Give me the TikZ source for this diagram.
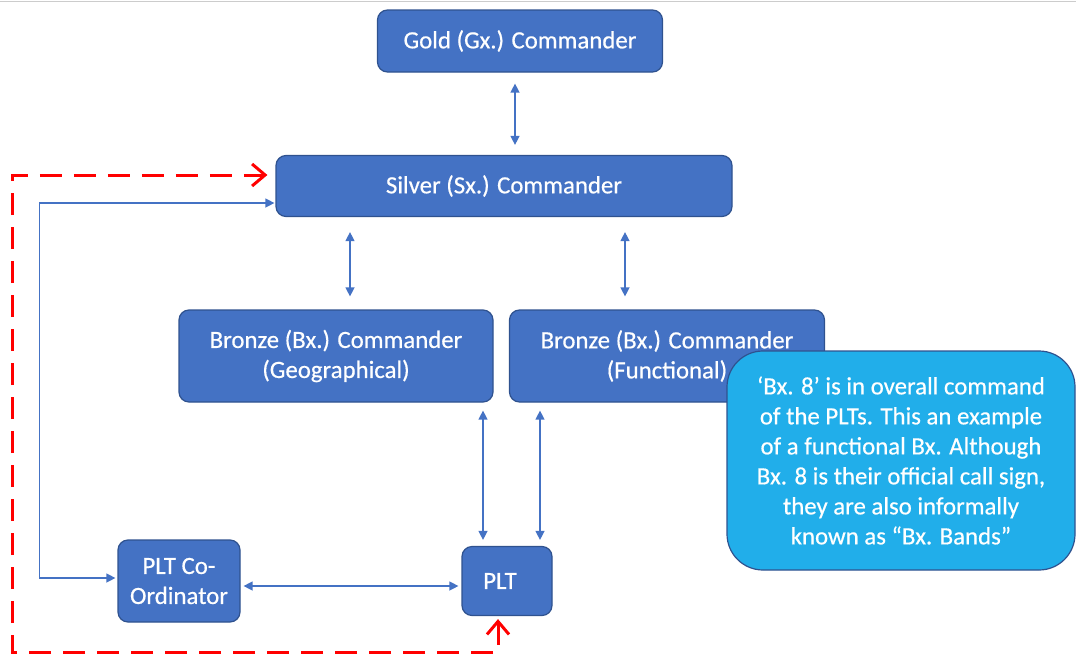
\documentclass[tikz,border=0pt]{standalone}
\usepackage{fontspec}
\setmainfont{Carlito}[FakeBold=0.5]
\usepackage{tikz}
\usetikzlibrary{arrows.meta}
\definecolor{boxblue}{HTML}{4472C4}
\definecolor{boxedge}{HTML}{2F528F}
\definecolor{noteblue}{HTML}{21AEEA}
\tikzset{
  cmdbox/.style={draw=boxedge, line width=1.2pt, fill=boxblue, rounded corners=10pt,
    text=white, align=center, inner sep=0pt, font=\fontsize{24.8}{30}\selectfont},
  notebox/.style={cmdbox, fill=noteblue, rounded corners=36pt},
  link/.style={boxblue, line width=1.3pt,
    {Triangle[length=9pt,width=9pt]}-{Triangle[length=9pt,width=9pt]}},
  feedback/.style={red, line width=3pt, dash pattern=on 22pt off 12pt,
    {Straight Barb[length=13pt,width=22pt]}-{Straight Barb[length=13pt,width=22pt]}}
}

\begin{document}
\begin{tikzpicture}[x=1pt,y=-1pt]
\useasboundingbox (0,0) rectangle (1076,656);
\draw [black!20, line width=1pt] (0,1.5) -- (1076,1.5);

\node [cmdbox, minimum width=285, minimum height=62] (gold) at (520,41) {Gold (Gx.) Commander};
\node [cmdbox, minimum width=456, minimum height=61] (silver) at (504,186) {Silver (Sx.) Commander};
\node [cmdbox, minimum width=314, minimum height=92] (bgeo) at (336,356) {Bronze (Bx.) Commander\\(Geographical)};
\node [cmdbox, minimum width=315, minimum height=92] (bfun) at (667,356) {Bronze (Bx.) Commander\\(Functional)};
\node [cmdbox, minimum width=122, minimum height=82] (coord) at (179,581) {PLT Co-\\Ordinator};
\node [cmdbox, minimum width=90, minimum height=69] (plt) at (507,581) {PLT\hspace{14pt}};

% command links
\draw [link, shorten <=11pt, shorten >=10pt] ([xshift=-5pt]gold.south) -- ([xshift=-5pt]gold.south |- silver.north);
\draw [link, shorten <=13pt, shorten >=15pt] ([xshift=14pt]bgeo.north) -- ([xshift=14pt]bgeo.north |- silver.south);
\draw [link, shorten <=13pt, shorten >=15pt] ([xshift=-42pt]bfun.north) -- ([xshift=-42pt]bfun.north |- silver.south);
\draw [link, shorten <=6pt, shorten >=8pt] ([xshift=-24pt]plt.north) -- ([xshift=-24pt]plt.north |- bgeo.south);
\draw [link, shorten <=6pt, shorten >=8pt] ([xshift=33pt]plt.north) -- ([xshift=33pt]plt.north |- bfun.south);
\draw [link, shorten <=3pt, shorten >=3pt] ([yshift=-5pt]coord.east) -- ([yshift=-5pt]coord.east -| plt.west);
\draw [link, shorten <=2pt, shorten >=1pt] ([yshift=3pt]coord.west) -- ++(-78,0) |- ([yshift=-17pt]silver.west);

% red dashed return path
\coordinate (rcorner) at (12,652);
\draw [feedback, shorten <=3pt, shorten >=8pt] ([xshift=-9pt]plt.south) |- (rcorner) |- ([yshift=11pt]silver.west);

\node [notebox, minimum width=348, minimum height=219] (note) at (901,460.5)
  {‘Bx. 8’ is in overall command\\of the PLTs. This an example\\of a functional Bx. Although\\Bx. 8 is their official call sign,\\they are also informally\\known as “Bx. Bands”};
\end{tikzpicture}
\end{document}
